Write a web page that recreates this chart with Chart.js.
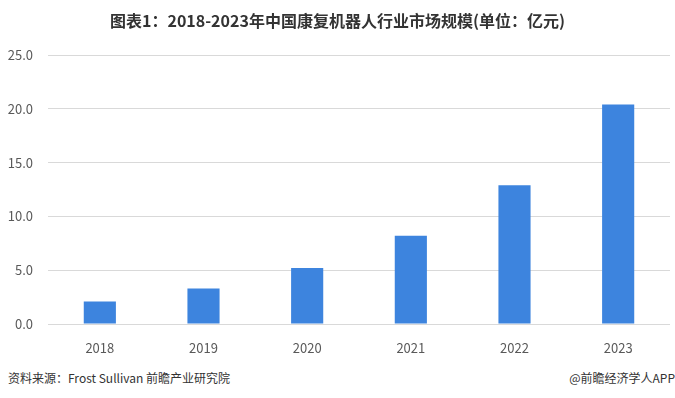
<!DOCTYPE html>
<html>
<head>
<meta charset="utf-8">
<script src="https://cdn.jsdelivr.net/npm/chart.js@4/dist/chart.umd.min.js"></script>
<style>
  html, body { margin: 0; padding: 0; background: #fff; }
  #wrap { position: relative; width: 675px; height: 398px; overflow: hidden; background: #fff; }
  #title { position: absolute; left: 0; top: 8px; width: 675px; text-align: center;
    font-family: "Noto Sans CJK SC", sans-serif; font-weight: bold; font-size: 16px; color: #333; line-height: 24px; }
  #chartBox { position: absolute; left: 0; top: 0; width: 675px; height: 355px; }
  .foot { position: absolute; top: 370px; font-family: "Noto Sans CJK SC", sans-serif; font-size: 12px; color: #333; line-height: 16px; white-space: nowrap; }
  #src { left: 8px; }
  #app { right: 0px; }
</style>
</head>
<body>
<div id="wrap">
  <div id="chartBox"><canvas id="c"></canvas></div>
  <div id="title">图表1：2018-2023年中国康复机器人行业市场规模(单位：亿元)</div>
  <div class="foot" id="src">资料来源：Frost Sullivan 前瞻产业研究院</div>
  <div class="foot" id="app">@前瞻经济学人APP</div>
</div>
<script>
const categories = ["2018", "2019", "2020", "2021", "2022", "2023"];
const marketSize = [2.1, 3.3, 5.2, 8.2, 12.9, 20.4];
const yTicks = [0, 5, 10, 15, 20, 25];

new Chart(document.getElementById('c'), {
  type: 'bar',
  data: {
    labels: categories,
    datasets: [{
      label: '市场规模',
      data: marketSize,
      backgroundColor: '#3d84de',
      borderWidth: 0,
      categoryPercentage: 1,
      barPercentage: 0.31
    }]
  },
  options: {
    responsive: true,
    maintainAspectRatio: false,
    animation: false,
    layout: { padding: { top: 55, right: 5, left: 0, bottom: 0 } },
    plugins: { legend: { display: false }, tooltip: { enabled: false }, title: { display: false } },
    scales: {
      x: {
        grid: { display: false },
        border: { display: false },
        ticks: { color: '#595959', font: { family: '"Noto Sans CJK SC", sans-serif', size: 13 }, padding: 8 },
        afterFit: (s) => { s.height = 31; }
      },
      y: {
        min: 0, max: 25,
        afterBuildTicks: (s) => { s.ticks = yTicks.map(v => ({ value: v })); },
        grid: { color: '#d9d9d9', lineWidth: 1, drawTicks: false },
        border: { display: false },
        ticks: {
          color: '#595959',
          font: { family: '"Noto Sans CJK SC", sans-serif', size: 13 },
          padding: 15,
          callback: (v) => Number(v).toFixed(1)
        },
        afterFit: (s) => { s.width = 48; }
      }
    }
  }
});
</script>
</body>
</html>
